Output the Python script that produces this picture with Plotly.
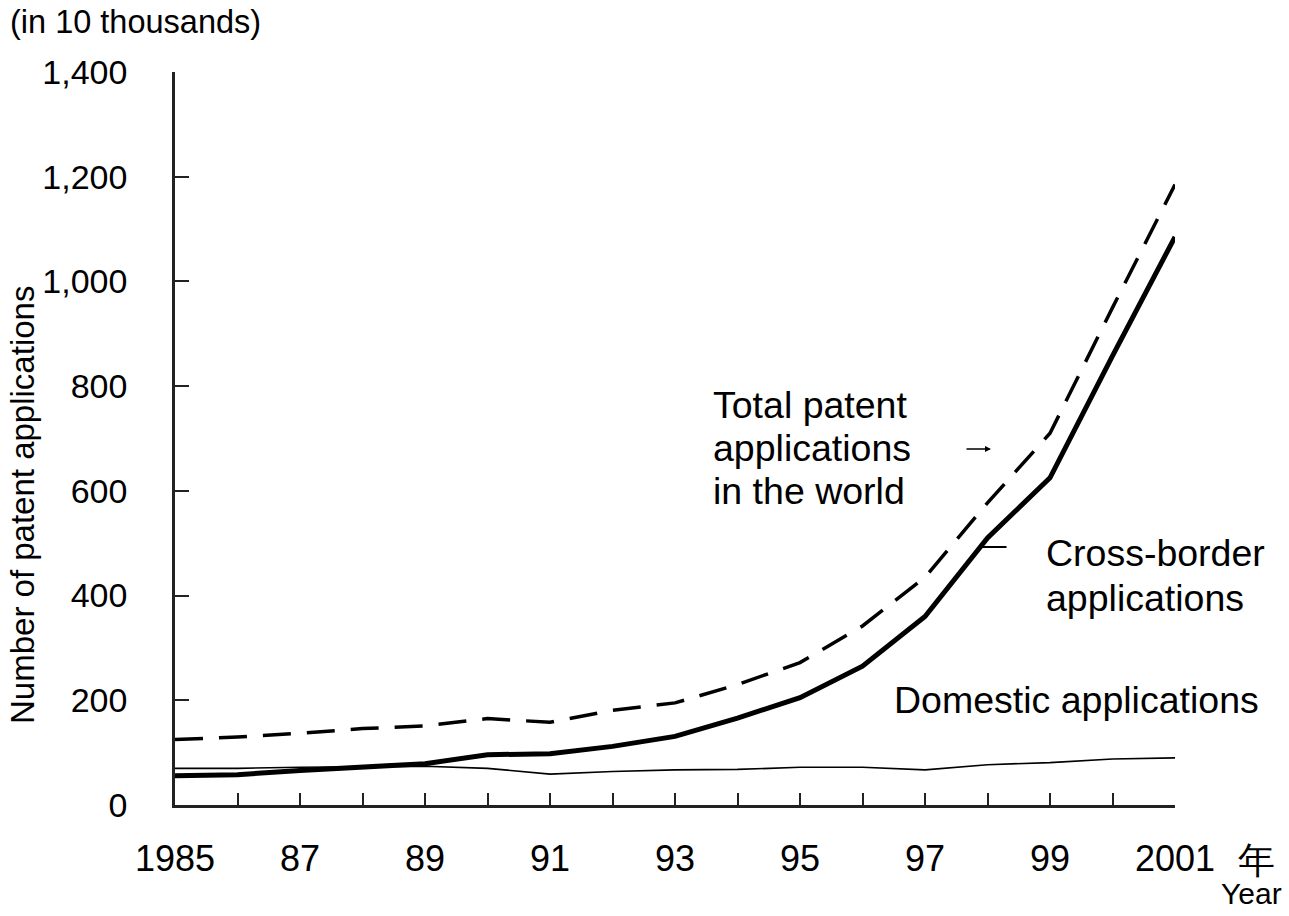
import plotly.graph_objects as go

years = list(range(1985, 2002))
total_world = [125, 130, 137, 146, 151, 165, 158, 181, 195, 230, 272, 342, 435, 577, 710, 950, 1185]
cross_border = [56, 58, 66, 72, 79, 96, 98, 112, 131, 166, 205, 265, 360, 510, 625, 858, 1085]
domestic = [70, 70, 72, 73, 74, 70, 59, 64, 67, 68, 72, 72, 67, 77, 81, 88, 90]

x_tick_text = ["1985", "", "87", "", "89", "", "91", "", "93", "", "95", "", "97", "", "99", "", "2001"]
y_tick_vals = [0, 200, 400, 600, 800, 1000, 1200, 1400]
y_tick_text = ["0", "200", "400", "600", "800", "1,000", "1,200", "1,400"]

W, H = 1289, 916
ML, MR, MT, MB = 175, 114, 72, 111
PW, PH = W - ML - MR, H - MT - MB
FONT = "Liberation Sans, Arial, sans-serif"


def px(x):
    return (x - ML) / PW


def py(y):
    return (H - MB - y) / PH


fig = go.Figure()
fig.add_trace(go.Scatter(x=years, y=total_world, mode="lines",
                         line=dict(color="black", width=3.5, dash="28px,16px"),
                         name="Total patent applications in the world"))
fig.add_trace(go.Scatter(x=years, y=cross_border, mode="lines",
                         line=dict(color="black", width=5),
                         name="Cross-border applications"))
fig.add_trace(go.Scatter(x=years, y=domestic, mode="lines",
                         line=dict(color="black", width=1.6),
                         name="Domestic applications"))

fig.update_layout(
    width=W, height=H,
    margin=dict(l=ML, r=MR, t=MT, b=MB),
    plot_bgcolor="white", paper_bgcolor="white",
    showlegend=False,
    font=dict(family=FONT, color="black"),
)
fig.update_xaxes(
    range=[1985, 2001], tickvals=years, ticktext=x_tick_text,
    ticks="inside", ticklen=12, tickwidth=2, tickcolor="#222",
    showline=True, linecolor="#222", linewidth=2.5,
    showgrid=False, zeroline=False,
    tickfont=dict(size=36, family=FONT, color="black"),
    ticklabelstandoff=20,
)
fig.update_yaxes(
    range=[0, 1400], tickvals=y_tick_vals, ticktext=y_tick_text,
    ticks="inside", ticklen=14, tickwidth=2, tickcolor="#222",
    showline=True, linecolor="#222", linewidth=2.5,
    showgrid=False, zeroline=False,
    tickfont=dict(size=34, family=FONT, color="black"),
    ticklabelstandoff=38,
)


def label(text, x, y, size=37.5, xanchor="left", angle=0):
    fig.add_annotation(text=text, x=px(x), y=py(y), xref="paper", yref="paper",
                       showarrow=False, xanchor=xanchor, yanchor="middle",
                       textangle=angle, font=dict(size=size, family=FONT, color="black"))


label("(in 10 thousands)", 8, 22, size=32.5)
label("Number of patent applications", 22, 505, size=33, xanchor="center", angle=-90)
label("Total patent", 711, 405)
label("applications", 711, 448)
label("in the world", 711, 491)
label("Cross-border", 1044, 553)
label("applications", 1044, 598)
label("Domestic applications", 892, 700)
label("年", 1256, 860, size=37, xanchor="center")
label("Year", 1284, 893, size=30, xanchor="right")

# small pointer arrows
fig.add_annotation(x=px(991), y=py(449), ax=-26, ay=0, xref="paper", yref="paper",
                   axref="pixel", ayref="pixel", text="", showarrow=True,
                   arrowhead=2, arrowsize=0.8, arrowwidth=1.5, arrowcolor="black")
fig.add_annotation(x=px(978), y=py(547), ax=30, ay=0, xref="paper", yref="paper",
                   axref="pixel", ayref="pixel", text="", showarrow=True,
                   arrowhead=0, arrowwidth=1.8, arrowcolor="black")

fig.write_html("out.html", config={"displayModeBar": False},
               post_script="document.body.style.margin='0';document.body.style.overflow='hidden';")
